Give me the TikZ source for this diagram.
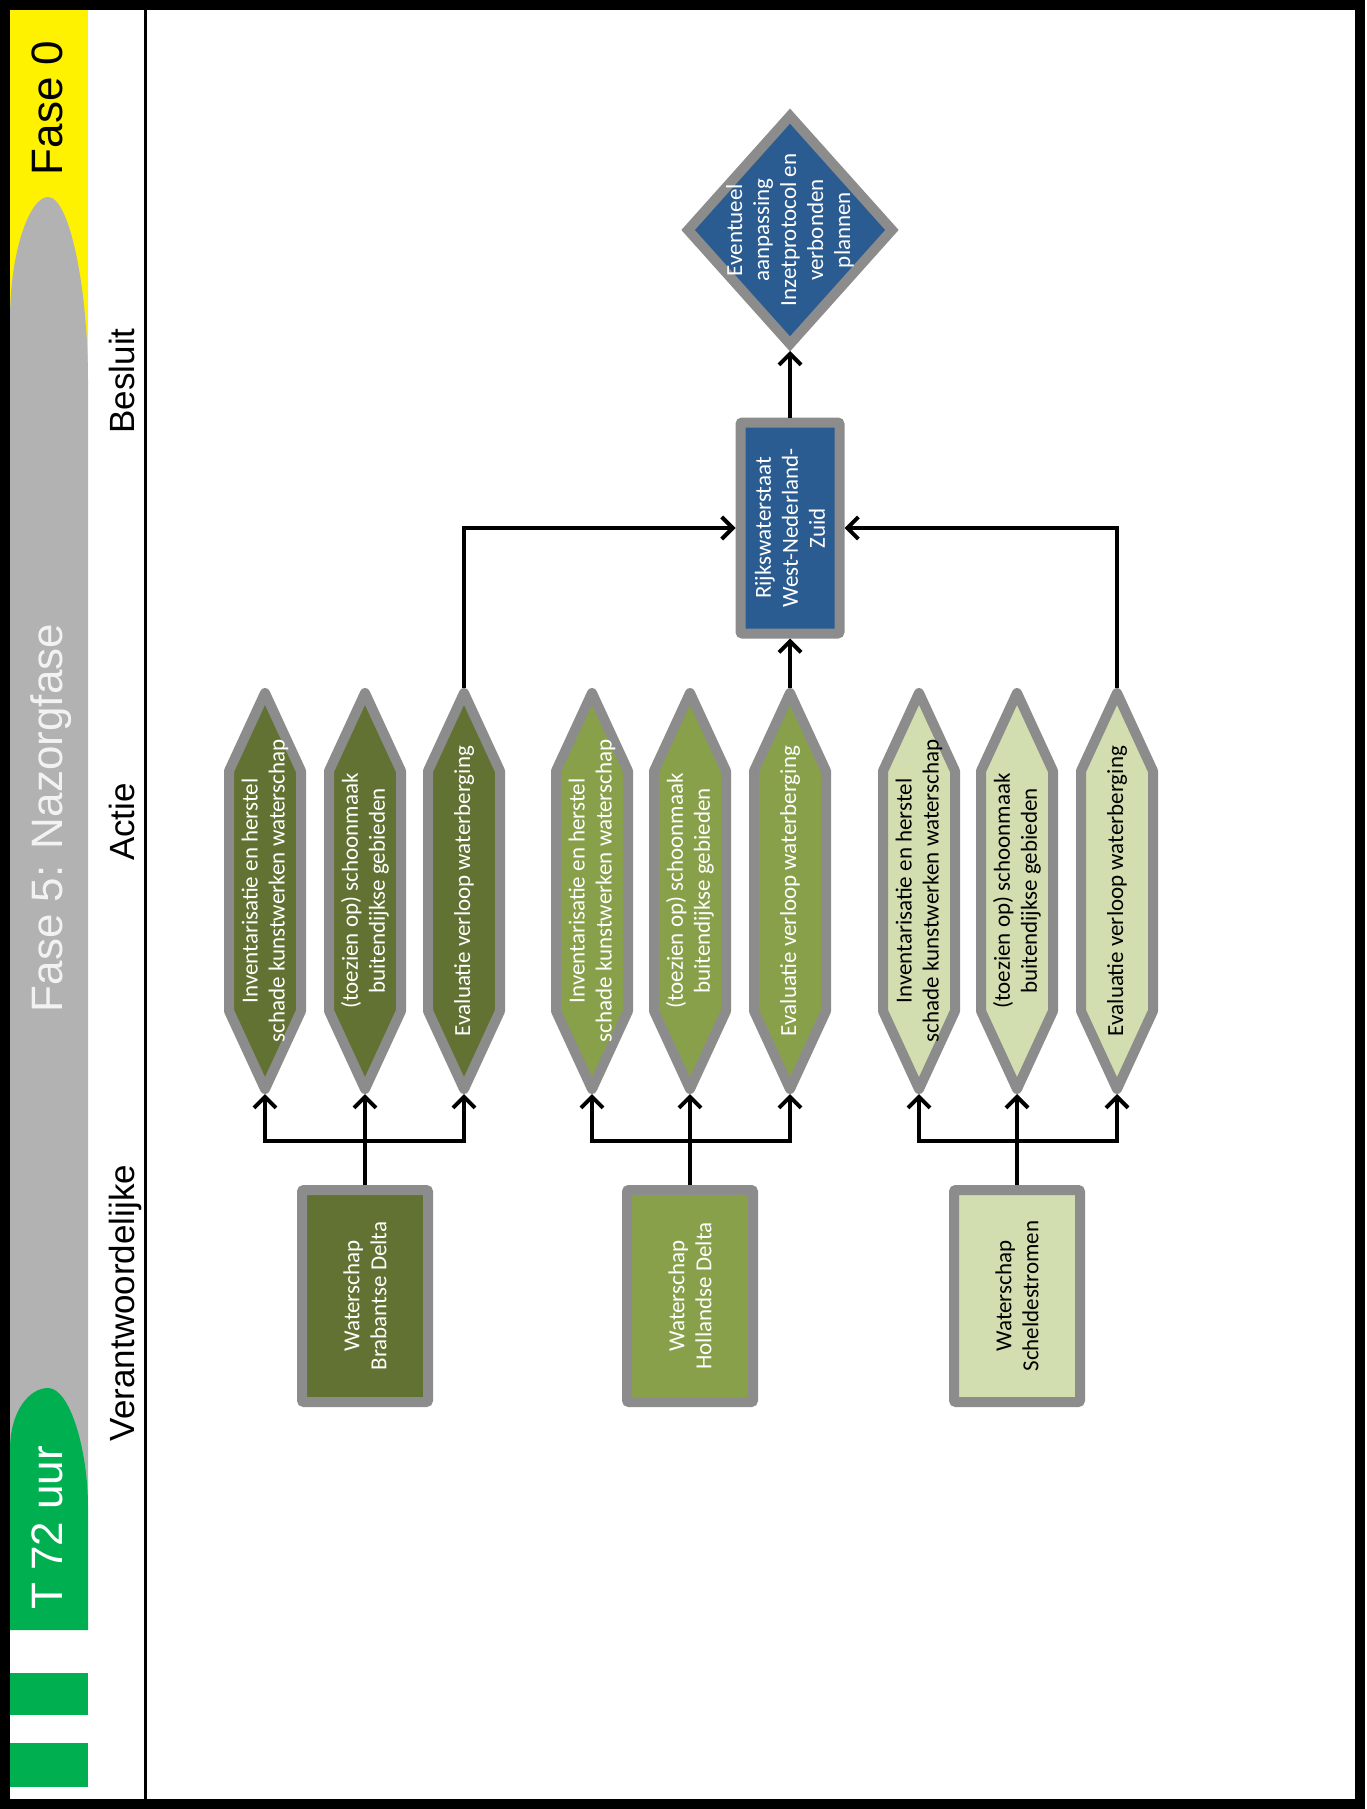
\documentclass[tikz,border=0pt]{standalone}
\usepackage{fontspec}
\setmainfont{Carlito}
\newfontfamily\headfont{Liberation Sans}
\usetikzlibrary{arrows.meta,shapes.geometric}
\definecolor{dkgreen}{RGB}{98,114,50}
\definecolor{mdgreen}{RGB}{137,160,75}
\definecolor{ltgreen}{RGB}{210,222,175}
\definecolor{rwsblue}{RGB}{42,92,145}
\definecolor{bordergray}{RGB}{140,140,140}
\definecolor{stripgray}{RGB}{178,178,178}
\definecolor{tgreen}{RGB}{0,176,80}
\definecolor{fasegray}{RGB}{242,242,242}
\tikzset{
  conn/.style={line width=3.4pt, -{Straight Barb[length=11pt,width=22pt,line width=4pt]}},
  boxshape/.style={draw=bordergray, line width=10pt, rounded corners=2pt, inner sep=0pt},
  wsbox/.style={boxshape, minimum width=126pt, minimum height=212pt},
  rwsbox/.style={boxshape, fill=rwsblue, minimum width=99pt, minimum height=211pt},
  dia/.style={diamond, draw=bordergray, line width=10pt, fill=rwsblue, inner sep=0pt, minimum width=208pt, minimum height=232pt},
  hexline/.style={draw=bordergray, line width=10pt, line join=round},
  hexanchor/.style={rectangle, inner sep=0pt, minimum width=72pt, minimum height=396pt, outer sep=5pt},
  txt/.style={rotate=90, align=center, font=\fontsize{23}{27}\selectfont},
  wtxt/.style={txt, text=white},
  btxt/.style={txt, text=black},
  head/.style={rotate=90, font=\headfont\fontsize{35}{40}\selectfont, text height=26pt, text depth=7pt, inner sep=0pt},
  striptxt/.style={rotate=90, font=\headfont\fontsize{44}{50}\selectfont, text height=33pt, text depth=9pt, inner sep=0pt},
}
\newcommand{\hexnode}[6]{%
  \begin{scope}[shift={(#2,#3)}]
    \path[hexline, fill=#4] (0,-198) -- (36,-120) -- (36,120) -- (0,198) -- (-36,120) -- (-36,-120) -- cycle;
  \end{scope}
  \node[hexanchor, label={[#5]center:{#6}}] (#1) at (#2,#3) {};
}
\begin{document}
\begin{tikzpicture}[x=1pt,y=-1pt]
\useasboundingbox (0,0) rectangle (1367,1809);
\fill[white] (0,0) rectangle (1367,1809);
% left strip
\fill[yellow] (10,9) rectangle (88,380);
\fill[stripgray] (10,1507) -- (10,320) .. controls (10,250) and (30,197) .. (48,197) .. controls (70,197) and (88,290) .. (88,380) -- (88,1507) -- cycle;
\fill[tgreen] (10,1630) -- (10,1450) .. controls (10,1410) and (30,1388) .. (48,1388) .. controls (70,1388) and (88,1450) .. (88,1507) -- (88,1630) -- cycle;
\fill[tgreen] (10,1673) rectangle (88,1715);
\fill[tgreen] (10,1743) rectangle (88,1787);
\node[striptxt, text=black] (f0) at (50,108) {Fase 0};
\node[striptxt, text=fasegray] (f5) at (50,818) {Fase 5: Nazorgfase};
\node[striptxt, text=white] (t72) at (50,1528) {T 72 uur};
% frame
\draw[line width=3pt] (145,8) -- (145,1801);
\draw[line width=10pt] (5,5) rectangle (1360,1804);
% headers
\node[head] (hb) at (125,381) {Besluit};
\node[head] (ha) at (125,822) {Actie};
\node[head] (hv) at (125,1303) {Verantwoordelijke};
% decision
\node[dia] (dia) at (790,230) {};
\node[wtxt] at (dia.center) {Eventueel\\aanpassing\\Inzetprotocol en\\verbonden\\plannen};
\node[rwsbox, label={[wtxt]center:{Rijkswaterstaat\\West-Nederland-\\Zuid}}] (rws) at (790,528) {};
% actions
\hexnode{a11}{265}{891}{dkgreen}{wtxt}{Inventarisatie en herstel\\schade kunstwerken waterschap}
\hexnode{a12}{365}{891}{dkgreen}{wtxt}{(toezien op) schoonmaak\\buitendijkse gebieden}
\hexnode{a13}{464}{891}{dkgreen}{wtxt}{Evaluatie verloop waterberging}
\hexnode{a21}{592}{891}{mdgreen}{wtxt}{Inventarisatie en herstel\\schade kunstwerken waterschap}
\hexnode{a22}{690}{891}{mdgreen}{wtxt}{(toezien op) schoonmaak\\buitendijkse gebieden}
\hexnode{a23}{790}{891}{mdgreen}{wtxt}{Evaluatie verloop waterberging}
\hexnode{a31}{919}{891}{ltgreen}{btxt}{Inventarisatie en herstel\\schade kunstwerken waterschap}
\hexnode{a32}{1017}{891}{ltgreen}{btxt}{(toezien op) schoonmaak\\buitendijkse gebieden}
\hexnode{a33}{1117}{891}{ltgreen}{btxt}{Evaluatie verloop waterberging}
% responsible
\node[wsbox, fill=dkgreen, label={[wtxt]center:{Waterschap\\Brabantse Delta}}] (w1) at (365,1296) {};
\node[wsbox, fill=mdgreen, label={[wtxt]center:{Waterschap\\Hollandse Delta}}] (w2) at (690,1296) {};
\node[wsbox, fill=ltgreen, label={[btxt]center:{Waterschap\\Scheldestromen}}] (w3) at (1017,1296) {};
% connectors
\coordinate (b1) at (365,1141);
\coordinate (b2) at (690,1141);
\coordinate (b3) at (1017,1141);
\draw[conn] (w1.north) -- (a12.south);
\draw[conn] (b1) -| (a11.south);
\draw[conn] (b1) -| (a13.south);
\draw[conn] (w2.north) -- (a22.south);
\draw[conn] (b2) -| (a21.south);
\draw[conn] (b2) -| (a23.south);
\draw[conn] (w3.north) -- (a32.south);
\draw[conn] (b3) -| (a31.south);
\draw[conn] (b3) -| (a33.south);
\draw[conn] (a13.north) |- (rws.west);
\draw[conn] (a33.north) |- (rws.east);
\draw[conn] (a23.north) -- (rws.south);
\draw[conn] (rws.north) -- (dia.south);
\end{tikzpicture}
\end{document}
